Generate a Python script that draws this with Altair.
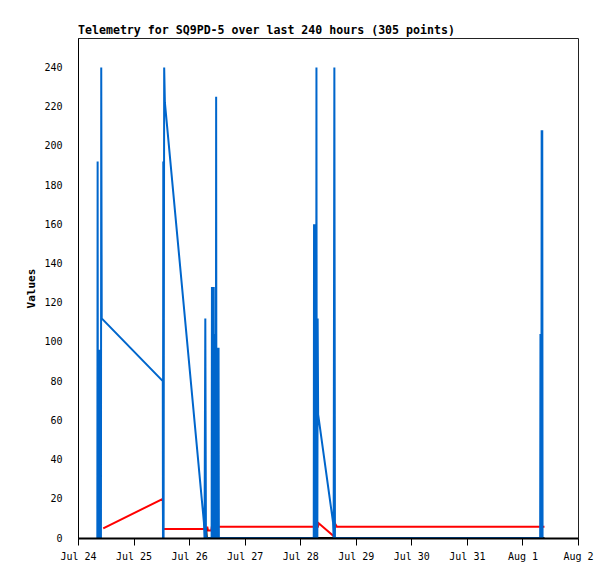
import altair as alt
import pandas as pd

BASE = pd.Timestamp("2024-07-24T00:00:00Z")

TITLE = "Telemetry for SQ9PD-5 over last 240 hours (305 points)"

# hours after Jul 24 00:00 and values
blue_hours = [8.35, 8.48, 8.61, 8.74, 8.87, 9.00, 9.13, 9.26, 9.39, 9.52,
              9.65, 9.78, 9.91, 10.04, 10.25,
              36.63, 36.71, 36.84, 36.97, 37.23, 37.54,
              54.40, 54.66, 55.00, 55.27,
              57.73, 57.86, 57.99, 58.12, 58.25, 58.38, 58.51, 58.64, 58.77,
              58.90, 59.03, 59.16, 59.29, 59.42, 59.55, 59.68, 59.81,
              59.94, 60.07, 60.20, 60.33, 60.46, 60.59, 60.72, 60.85,
              101.84, 101.97, 102.10, 102.23, 102.36, 102.49, 102.62, 102.75,
              102.88, 103.01, 103.14, 103.27, 103.40, 103.53, 103.74,
              110.18, 110.44, 110.75, 111.00,
              199.65, 199.78, 199.91, 200.04, 200.17, 200.30, 200.43, 200.56,
              200.69]
blue_values = [0, 192, 0, 96, 0, 96, 0, 96, 0, 96,
               0, 96, 0, 240, 112,
               80, 0, 192, 0, 240, 222,
               8, 0, 112, 0,
               0, 128, 0, 128, 0, 128, 0, 128, 0,
               104, 0, 104, 0, 104, 0, 225, 0,
               97, 0, 97, 0, 97, 0, 97, 0,
               0, 160, 0, 160, 0, 160, 0, 160,
               0, 240, 0, 112, 0, 112, 63,
               8, 0, 240, 0,
               0, 104, 0, 104, 0, 208, 0, 208,
               0]

red_hours = [10.90, 36.67, 36.76, 55.57, 55.83, 56.17, 57.56, 57.82,
             103.65, 104.00, 110.40, 111.18, 111.78, 201.51]
red_values = [4.9, 20, 4.6, 4.6, 5.8, 3.8, 3.8, 5.8,
              5.8, 7.5, 1, 7, 5.8, 5.8]

black_hours = [55.13, 55.35, 55.65, 201.51]
black_values = [0, 5, 0, 0]

y_ticks = list(range(0, 241, 20))
x_tick_days = [(7, 24), (7, 25), (7, 26), (7, 27), (7, 28), (7, 29),
               (7, 30), (7, 31), (8, 1), (8, 2)]


def frame(hours, values):
    return pd.DataFrame({
        "time": [(BASE + pd.Timedelta(hours=h)).strftime("%Y-%m-%dT%H:%M:%SZ")
                 for h in hours],
        "value": values,
        "idx": list(range(len(hours))),
    })


FONT = "DejaVu Sans Mono"

x_enc = alt.X(
    "time:T",
    scale=alt.Scale(
        type="utc",
        domain=[alt.DateTime(year=2024, month=7, date=24, utc=True),
                alt.DateTime(year=2024, month=8, date=2, utc=True)],
        nice=False,
    ),
    axis=alt.Axis(
        values=[alt.DateTime(year=2024, month=m, date=d, utc=True)
                for m, d in x_tick_days],
        format="%b %-d",
        title=None,
        grid=False,
        tickSize=7,
        tickColor="black",
        tickWidth=1,
        domainColor="black",
        domainWidth=2,
        labelFont=FONT,
        labelFontSize=10,
        labelColor="black",
        labelPadding=6,
        labelFlush=False,
        zindex=1,
    ),
)

y_enc = alt.Y(
    "value:Q",
    scale=alt.Scale(domain=[0, 255], nice=False, zero=True),
    axis=alt.Axis(
        values=y_ticks,
        title="Values",
        grid=False,
        ticks=False,
        domainColor="black",
        domainWidth=1,
        labelFont=FONT,
        labelFontSize=10,
        labelColor="black",
        labelPadding=16,
        titleFont=FONT,
        titleFontSize=11,
        titleFontWeight="bold",
        titleColor="black",
        titlePadding=7,
        zindex=1,
    ),
)


def line(df, color):
    return alt.Chart(df).mark_line(
        color=color, strokeWidth=2, interpolate="linear", clip=True
    ).encode(x=x_enc, y=y_enc, order="idx:Q")


chart = alt.layer(
    line(frame(red_hours, red_values), "#ff0000"),
    line(frame(black_hours, black_values), "#000000"),
    line(frame(blue_hours, blue_values), "#0066cc"),
).properties(
    width=500,
    height=500,
    title=alt.TitleParams(
        TITLE,
        anchor="start",
        frame="group",
        font=FONT,
        fontSize=11.6,
        fontWeight="bold",
        color="black",
        offset=1,
    ),
    autosize=alt.AutoSizeParams(type="none"),
    padding={"left": 70, "top": 30, "right": 29, "bottom": 33},
    background="white",
).configure_view(stroke="#222222", strokeWidth=1)

chart.save("out.html", embed_options={"renderer": "svg", "actions": False})
